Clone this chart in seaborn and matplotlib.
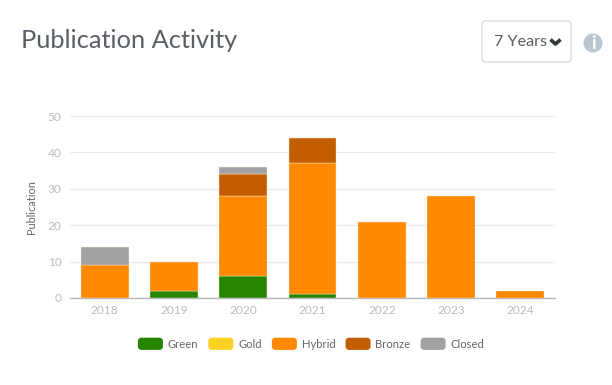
import numpy as np
import pandas as pd
import matplotlib
matplotlib.use('Agg')
import matplotlib.pyplot as plt
import seaborn as sns
from matplotlib.legend_handler import HandlerPatch
from matplotlib.patches import FancyBboxPatch, Patch, Circle

years = ['2018', '2019', '2020', '2021', '2022', '2023', '2024']
green = [0, 2, 6, 1, 0, 0, 0]
gold = [0, 0, 0, 0, 0, 0, 0]
hybrid = [9, 8, 22, 36, 21, 28, 2]
bronze = [0, 0, 6, 7, 0, 0, 0]
closed = [5, 0, 2, 0, 0, 0, 0]
series_names = ['Green', 'Gold', 'Hybrid', 'Bronze', 'Closed']
series_colors = ['#268500', '#FBD126', '#FF8900', '#C25E00', '#A2A2A2']
y_ticks = [0, 10, 20, 30, 40, 50]

df = pd.DataFrame({'year': years, 'Green': green, 'Gold': gold, 'Hybrid': hybrid,
                   'Bronze': bronze, 'Closed': closed})

sns.set_theme(style='white')
plt.rcParams['font.family'] = ['Lato', 'DejaVu Sans']

fig = plt.figure(figsize=(6.12, 3.85), dpi=100)
ax = fig.add_axes([70 / 612, 1 - 298 / 385, 485 / 612, 182 / 385])

# barres empilees, une couche par type
base = np.zeros(len(years))
for name, color in zip(series_names, series_colors):
    vals = df[name].to_numpy(dtype=float)
    mask = vals > 0
    if mask.any():
        sns.barplot(data=df[mask], x='year', y=name, order=years, color=color, saturation=1,
                    width=0.69, bottom=base[mask], edgecolor='#ffe9c8', linewidth=0.3, ax=ax,
                    errorbar=None, zorder=3)
    base += vals

ax.set_xlim(-0.5, 6.5)
ax.set_ylim(0, 50)
ax.set_yticks(y_ticks)
ax.grid(axis='y', color='#e6e9ee', linewidth=0.8)
ax.set_axisbelow(True)
ax.set_xlabel('')
ax.set_ylabel('Publication', fontsize=7.8, color='#666666', labelpad=8)
ax.tick_params(axis='both', length=0, labelsize=8.6, labelcolor='#b8bcc1')
ax.tick_params(axis='x', pad=5)
ax.tick_params(axis='y', pad=6)
sns.despine(ax=ax, left=True)
ax.spines['bottom'].set_color('#b5b8bc')
ax.spines['bottom'].set_linewidth(1)


def rounded_swatch(legend, orig_handle, xdescent, ydescent, width, height, fontsize):
    return FancyBboxPatch((-xdescent + 1.5, -ydescent + 1.5), width - 3, height - 3,
                          boxstyle='round,pad=1.5,rounding_size=2')


handles = [Patch(color=c, label=n) for n, c in zip(series_names, series_colors)]
fig.legend(handles=handles, loc='center', bbox_to_anchor=(311.5 / 612, 1 - 344 / 385), ncol=5,
           frameon=False, fontsize=8.1, labelcolor='#666666', handlelength=2.1, handleheight=1.1,
           handletextpad=0.5, columnspacing=0.95,
           handler_map={Patch: HandlerPatch(patch_func=rounded_swatch)})

# en-tete : titre, menu et icone, en pixels
top = fig.add_axes([0, 0, 1, 1], facecolor='none')
top.set_xlim(0, 612)
top.set_ylim(385, 0)
top.axis('off')
top.text(21, 41, 'Publication Activity', fontsize=18.3, color='#5a5f66', va='center', ha='left')
top.add_patch(FancyBboxPatch((483, 22), 87, 39, boxstyle='round,pad=1,rounding_size=3',
                             facecolor='white', edgecolor='#cfd3d7', linewidth=0.8))
top.text(494, 42, '7 Years', fontsize=11.6, color='#5a5f66', va='center', ha='left')
top.plot([550.5, 555.5, 560.5], [39.5, 44, 39.5], color='#33383d', linewidth=2.6, solid_capstyle='butt')
top.add_patch(Circle((593, 43), 9.5, facecolor='#bcc6d0', edgecolor='none'))
top.text(593, 43.5, 'i', fontsize=13, fontweight='bold', color='white', va='center', ha='center')

fig.savefig('out.png', dpi=100)
